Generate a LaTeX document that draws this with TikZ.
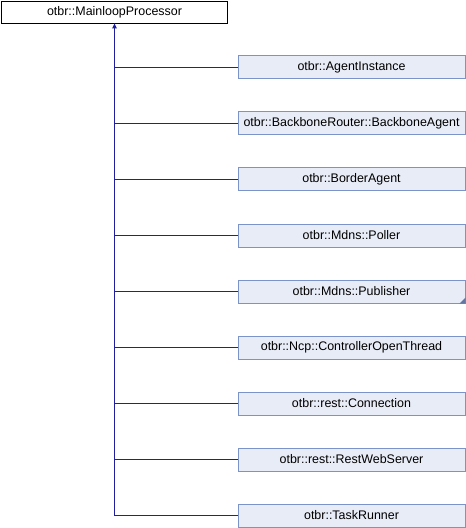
\documentclass[tikz,border=0pt]{standalone}
\usepackage{fontspec}
\setmainfont{Liberation Sans}
\usetikzlibrary{arrows.meta}
\definecolor{boxfill}{HTML}{E8ECF6}
\definecolor{boxline}{HTML}{7B93C9}
\definecolor{edgeblue}{HTML}{1F1FA0}
\tikzset{
  base/.style={draw=black,line width=0.8bp,fill=white,minimum width=226bp,minimum height=22bp,inner sep=0pt,font=\fontsize{12.5}{15}\selectfont},
  derived/.style={draw=boxline,line width=1bp,fill=boxfill,minimum width=227bp,minimum height=23bp,inner sep=0pt,font=\fontsize{12.5}{15}\selectfont},
  edge/.style={draw=edgeblue,line width=1bp},
  inh/.style={edge,-{Triangle[length=5bp,width=4.5bp]}}
}
\begin{document}
\begin{tikzpicture}[x=1bp,y=-1bp]
\useasboundingbox (0,0) rectangle (466,528);
\node[base] (proc) at (114.5,12) {otbr::MainloopProcessor};
\node[derived] (agent) at (351.5,67.5) {otbr::AgentInstance};
\node[derived] (bbagent) at (351.5,123.5) {otbr::BackboneRouter::BackboneAgent};
\node[derived] (border) at (351.5,179.5) {otbr::BorderAgent};
\node[derived] (poller) at (351.5,235.5) {otbr::Mdns::Poller};
\node[derived] (publisher) at (351.5,291.5) {otbr::Mdns::Publisher};
\node[derived] (ncp) at (351.5,347.5) {otbr::Ncp::ControllerOpenThread};
\node[derived] (conn) at (351.5,403.5) {otbr::rest::Connection};
\node[derived] (rest) at (351.5,459.5) {otbr::rest::RestWebServer};
\node[derived] (task) at (351.5,515.5) {otbr::TaskRunner};
% marker for the incomplete class
\fill[boxline!80!black] (publisher.south east) -- ++(-6,0) -- ++(6,-6) -- cycle;
% inheritance edges
\draw[inh] (task.west) -| (proc.south);
\draw[edge] (agent.west) -- (agent.west -| proc.south);
\draw[edge] (bbagent.west) -- (bbagent.west -| proc.south);
\draw[edge] (border.west) -- (border.west -| proc.south);
\draw[edge] (poller.west) -- (poller.west -| proc.south);
\draw[edge] (publisher.west) -- (publisher.west -| proc.south);
\draw[edge] (ncp.west) -- (ncp.west -| proc.south);
\draw[edge] (conn.west) -- (conn.west -| proc.south);
\draw[edge] (rest.west) -- (rest.west -| proc.south);
\end{tikzpicture}
\end{document}
